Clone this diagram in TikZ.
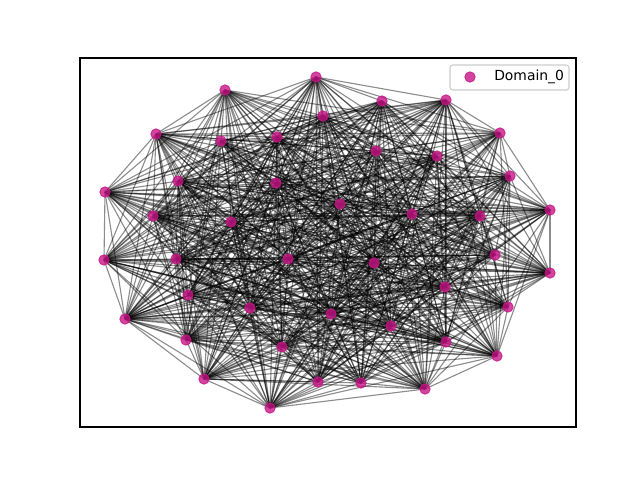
\documentclass[tikz,border=0pt]{standalone}
\usepackage{fontspec}
\setmainfont{DejaVu Sans}
\usetikzlibrary{backgrounds}
\definecolor{mvr}{HTML}{C71585}
\tikzset{
  vtx/.style={circle, fill=mvr, fill opacity=0.8, draw=mvr, draw opacity=0.8, line width=0.6pt, minimum size=7.5pt, inner sep=0pt},
  edge/.style={black, opacity=0.45, line width=0.8pt},
  frame/.style={draw=black, line width=0.8pt},
  legendbox/.style={draw=black!20, fill=white, fill opacity=0.8, rounded corners=2pt, line width=0.8pt}
}
\begin{document}
\begin{tikzpicture}[x=0.72pt, y=-0.72pt]
\useasboundingbox (0,0) rectangle (640,480);
\foreach \k/\px/\py in {
1/316/77, 2/225/90, 3/382/101, 4/446/100, 5/156/134, 6/500/133, 7/510/176,
8/105/192, 9/550/210, 10/104/260, 11/550/273, 12/125/319, 13/508/307, 14/497/356,
15/186/340, 16/204/379, 17/270/408, 18/318/382, 19/361/383, 20/425/389, 21/446/342,
22/323/116, 23/277/137, 24/221/141, 25/376/151, 26/437/156, 27/178/181, 28/276/183,
29/340/204, 30/153/216, 31/231/222, 32/412/214, 33/480/216, 34/176/259, 35/288/259,
36/374/263, 37/495/255, 38/445/287, 39/188/295, 40/250/308, 41/331/314, 42/391/326,
43/282/347}
{ \node[vtx] (n\k) at (\px,\py) {}; }
\pgfmathsetseed{7}
\begin{scope}[on background layer]
\foreach \i in {1,...,42} {
  \pgfmathtruncatemacro\jstart{\i+1}
  \foreach \j in {\jstart,...,43} {
    \pgfmathsetmacro\r{rnd}
    \ifdim\r pt<0.8pt \draw[edge] (n\i.center) -- (n\j.center); \fi
  }
}
\end{scope}
\draw[frame] (80,58) rectangle (576,427);
\coordinate (legA) at (450,65);
\coordinate (legB) at (569,90);
\draw[legendbox] (legA) rectangle (legB);
\node[vtx] (legm) at (470,77) {};
\node[anchor=west, font=\fontsize{10pt}{12pt}\selectfont, inner sep=0pt] (legt) at (494,77) {Domain\_0};
\end{tikzpicture}
\end{document}
